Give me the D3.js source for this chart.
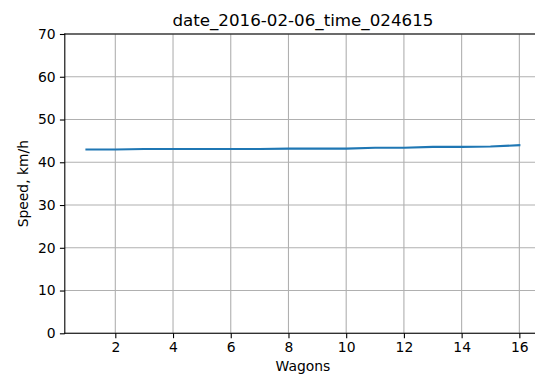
<!DOCTYPE html>
<html>
<head>
<meta charset="utf-8">
<script src="https://cdn.jsdelivr.net/npm/d3@7/dist/d3.min.js"></script>
<style>
  html, body { margin: 0; padding: 0; background: #fff; overflow: hidden; }
  svg { display: block; }
  text { font-family: "DejaVu Sans", sans-serif; fill: #000; }
</style>
</head>
<body>
<svg id="chart" width="535" height="374"></svg>
<script>
// Speed per wagon for one train pass
const wagons = [1, 2, 3, 4, 5, 6, 7, 8, 9, 10, 11, 12, 13, 14, 15, 16];
const speeds = [43.0, 43.0, 43.1, 43.1, 43.1, 43.1, 43.1, 43.2, 43.2, 43.2, 43.4, 43.4, 43.6, 43.6, 43.7, 44.0];
const xTicks = [2, 4, 6, 8, 10, 12, 14, 16];
const yTicks = [0, 10, 20, 30, 40, 50, 60, 70];
const titleText = "date_2016-02-06_time_024615";
const xLabelText = "Wagons";
const yLabelText = "Speed, km/h";

const svg = d3.select("#chart");
const plot = { left: 64.8, right: 541, top: 34, bottom: 333.3 };

const x = d3.scaleLinear().domain([0.25, 16.75]).range([plot.left, plot.right]);
const y = d3.scaleLinear().domain([0, 70]).range([plot.bottom, plot.top]);

const grid = "#b0b0b0";
const fontPx = 13.9;

// grid lines
svg.append("g").selectAll("line.gx").data(xTicks).join("line")
  .attr("x1", d => x(d)).attr("x2", d => x(d))
  .attr("y1", plot.top).attr("y2", plot.bottom)
  .attr("stroke", grid).attr("stroke-width", 1.1);
svg.append("g").selectAll("line.gy").data(yTicks).join("line")
  .attr("x1", plot.left).attr("x2", plot.right)
  .attr("y1", d => y(d)).attr("y2", d => y(d))
  .attr("stroke", grid).attr("stroke-width", 1.1);

// speed line
const line = d3.line().x((d, i) => x(wagons[i])).y(d => y(d));
svg.append("path").datum(speeds)
  .attr("d", line)
  .attr("fill", "none")
  .attr("stroke", "#1f77b4")
  .attr("stroke-width", 2.08)
  .attr("stroke-linecap", "square");

// axes
const xAxis = d3.axisBottom(x).tickValues(xTicks).tickSize(4.9).tickPadding(4.2).tickFormat(d3.format("d"));
const yAxis = d3.axisLeft(y).tickValues(yTicks).tickSize(4.9).tickPadding(4.2).tickFormat(d3.format("d"));

const gx = svg.append("g").attr("transform", `translate(0,${plot.bottom})`).call(xAxis);
const gy = svg.append("g").attr("transform", `translate(${plot.left},0)`).call(yAxis);
[gx, gy].forEach(g => {
  g.select(".domain").remove();
  g.selectAll(".tick line").attr("stroke", "#000").attr("stroke-width", 1.1);
  g.selectAll(".tick text").attr("font-size", fontPx).attr("font-family", "DejaVu Sans").attr("fill", "#000");
});

// spines
const spine = (x1, y1, x2, y2) => svg.append("line")
  .attr("x1", x1).attr("y1", y1).attr("x2", x2).attr("y2", y2)
  .attr("stroke", "#000").attr("stroke-width", 1.1).attr("stroke-linecap", "square");
spine(plot.left, plot.top, plot.right, plot.top);
spine(plot.left, plot.bottom, plot.right, plot.bottom);
spine(plot.left, plot.top, plot.left, plot.bottom);
spine(plot.right, plot.top, plot.right, plot.bottom);

// title and labels
svg.append("text")
  .attr("x", (plot.left + plot.right) / 2).attr("y", 25.5)
  .attr("text-anchor", "middle").attr("font-size", 16.7)
  .text(titleText);
svg.append("text")
  .attr("x", (plot.left + plot.right) / 2).attr("y", 371)
  .attr("text-anchor", "middle").attr("font-size", fontPx)
  .text(xLabelText);
svg.append("text")
  .attr("transform", `translate(27.5,${(plot.top + plot.bottom) / 2}) rotate(-90)`)
  .attr("text-anchor", "middle").attr("font-size", fontPx)
  .text(yLabelText);
</script>
</body>
</html>
